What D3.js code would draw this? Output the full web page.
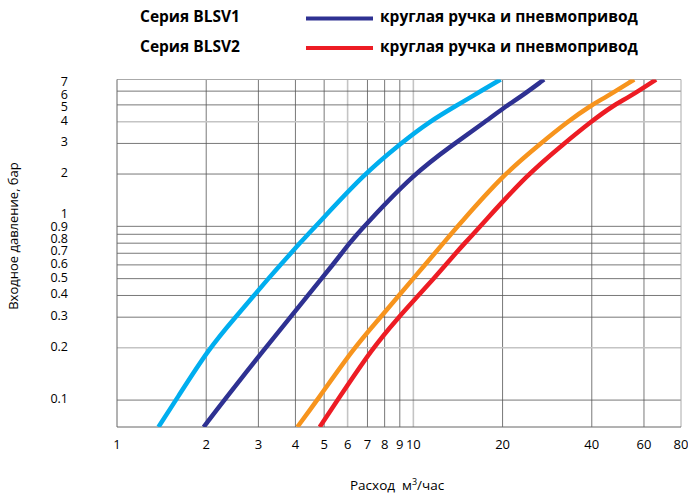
<!DOCTYPE html>
<html>
<head>
<meta charset="utf-8">
<script src="https://cdn.jsdelivr.net/npm/d3@7/dist/d3.min.js"></script>
<style>
  body { margin: 0; background: #fff; }
  svg { font-family: "Open Sans", Lato, sans-serif; }
</style>
</head>
<body>
<div id="chart"></div>
<script>
// pressure sample points (bar) shared by all curves
var pressure = [0.07, 0.1, 0.2, 0.3, 0.4, 0.5, 0.6, 0.7, 0.8, 0.9, 1, 2, 3, 4, 5, 5.5, 7];

// flow (m3/h) at the pressures above
var flowCyan   = [1.38, 1.58, 2.05, 2.51, 2.90, 3.24, 3.56, 3.86, 4.14, 4.41, 4.68, 6.81, 9.06, 11.3, 14.1, 15.5, 19.7];
var flowNavy   = [1.96, 2.30, 3.17, 3.85, 4.40, 4.90, 5.34, 5.73, 6.09, 6.46, 6.82, 10.0, 13.8, 17.5, 20.8, 22.8, 27.6];
var flowOrange = [4.06, 4.74, 6.30, 7.75, 8.94, 9.99, 10.94, 11.81, 12.62, 13.38, 14.1, 20.2, 26.9, 33.1, 40.0, 44.3, 55.6];
var flowRed    = [4.83, 5.55, 7.29, 8.92, 10.4, 11.7, 12.85, 13.9, 14.9, 15.9, 16.8, 24.3, 32.3, 39.7, 47.6, 53.0, 65.9];

var xTicks = [1, 2, 3, 4, 5, 6, 7, 8, 9, 10, 20, 40, 60, 80];
var yTicks = [0.1, 0.2, 0.3, 0.4, 0.5, 0.6, 0.7, 0.8, 0.9, 1, 2, 3, 4, 5, 6, 7];
var xSoft = [6, 10];
var ySoft = [0.2, 4];

var series = [
  { name: "cyan", flow: flowCyan, color: "#00aeef" },
  { name: "navy", flow: flowNavy, color: "#2e3192" },
  { name: "orange", flow: flowOrange, color: "#f7941d" },
  { name: "red", flow: flowRed, color: "#ed1c24" }
];

var legend = [
  { label: "Серия BLSV1", text: "круглая ручка и пневмопривод", color: "#2e3192" },
  { label: "Серия BLSV2", text: "круглая ручка и пневмопривод", color: "#ed1c24" }
];

var drawChart = function() {
  var width = 688, height = 498;
  var pLeft = 117, pRight = 681, pTop = 79.5, pBottom = 427;

  var svg = d3.select("#chart")
      .append("svg")
      .attr("width", width)
      .attr("height", height);

  var xScale = d3.scaleLog().domain([1, 80]).range([pLeft, pRight]);
  var yScale = d3.scaleLog().domain([0.07, 7]).range([pBottom, pTop]);

  // grid
  var grid = svg.append("g").attr("class", "grid");

  grid.selectAll("line.v")
      .data(xTicks.slice(1, -1))
      .enter()
      .append("line")
      .attr("x1", function(d) { return xScale(d); })
      .attr("x2", function(d) { return xScale(d); })
      .attr("y1", pTop)
      .attr("y2", pBottom)
      .attr("stroke", function(d) { return xSoft.indexOf(d) >= 0 ? "#c4c4c4" : "#555"; })
      .attr("stroke-width", function(d) { return xSoft.indexOf(d) >= 0 ? 1.6 : 0.8; });

  grid.selectAll("line.h")
      .data(yTicks.slice(0, -1))
      .enter()
      .append("line")
      .attr("y1", function(d) { return yScale(d); })
      .attr("y2", function(d) { return yScale(d); })
      .attr("x1", pLeft)
      .attr("x2", pRight)
      .attr("stroke", function(d) { return ySoft.indexOf(d) >= 0 ? "#c4c4c4" : "#555"; })
      .attr("stroke-width", function(d) { return ySoft.indexOf(d) >= 0 ? 1.6 : 0.8; });

  // frame
  svg.append("line").attr("x1", pLeft).attr("x2", pRight).attr("y1", pTop).attr("y2", pTop)
      .attr("stroke", "#aaa").attr("stroke-width", 1);
  svg.append("line").attr("x1", pRight).attr("x2", pRight).attr("y1", pTop).attr("y2", pBottom)
      .attr("stroke", "#aaa").attr("stroke-width", 1);
  svg.append("line").attr("x1", pLeft).attr("x2", pLeft).attr("y1", pTop).attr("y2", pBottom)
      .attr("stroke", "#666").attr("stroke-width", 1);
  svg.append("line").attr("x1", pLeft).attr("x2", pRight).attr("y1", pBottom).attr("y2", pBottom)
      .attr("stroke", "#666").attr("stroke-width", 1);

  // curves
  svg.append("clipPath").attr("id", "plot")
      .append("rect")
      .attr("x", pLeft).attr("y", pTop)
      .attr("width", pRight - pLeft).attr("height", pBottom - pTop);

  var line = d3.line()
      .x(function(d) { return xScale(d[0]); })
      .y(function(d) { return yScale(d[1]); })
      .curve(d3.curveBasis);

  svg.append("g")
      .attr("clip-path", "url(#plot)")
      .selectAll("path")
      .data(series)
      .enter()
      .append("path")
      .attr("d", function(s) { return line(s.flow.map(function(f, i) { return [f, pressure[i]]; })); })
      .attr("fill", "none")
      .attr("stroke", function(s) { return s.color; })
      .attr("stroke-width", 4.5);

  // x tick labels
  svg.append("g")
      .selectAll("text")
      .data(xTicks)
      .enter()
      .append("text")
      .attr("x", function(d) { return xScale(d); })
      .attr("y", 449)
      .attr("text-anchor", "middle")
      .attr("font-size", 13)
      .text(function(d) { return d; });

  // y tick labels, stacked like the original so they don't collide
  var step = 12.4;
  var yPos = yTicks.map(function(d) { return yScale(d) - 1.5; });
  for (var i = 1; i < yPos.length; i++) {
    if (yPos[i] > yPos[i - 1] - step) yPos[i] = yPos[i - 1] - step;
  }
  var last = yPos.length - 1;
  if (yPos[last] < 82) yPos[last] = 82;
  for (var j = last - 1; j >= 0; j--) {
    if (yPos[j] < yPos[j + 1] + step) yPos[j] = yPos[j + 1] + step;
  }

  svg.append("g")
      .selectAll("text")
      .data(yTicks)
      .enter()
      .append("text")
      .attr("x", 68)
      .attr("y", function(d, i) { return yPos[i]; })
      .attr("dy", "0.35em")
      .attr("text-anchor", "end")
      .attr("font-size", 12.5)
      .text(function(d) { return d; });

  // axis titles
  var xTitle = svg.append("text")
      .attr("x", 350)
      .attr("y", 490)
      .attr("font-size", 13.5)
      .style("white-space", "pre");
  xTitle.append("tspan").text("Расход  м");
  xTitle.append("tspan").attr("dy", -5).attr("font-size", 9).text("3");
  xTitle.append("tspan").attr("dy", 5).text("/час");

  svg.append("text")
      .attr("transform", "translate(18,236) rotate(-90)")
      .attr("text-anchor", "middle")
      .attr("font-size", 13)
      .text("Входное давление, бар");

  // legend
  var lg = svg.append("g")
      .selectAll("g")
      .data(legend)
      .enter()
      .append("g")
      .attr("transform", function(d, i) { return "translate(0," + (17 + i * 29.5) + ")"; });

  lg.append("text")
      .attr("x", 140)
      .attr("dy", "0.35em")
      .attr("font-size", 15.5)
      .attr("font-weight", "bold")
      .text(function(d) { return d.label; });

  lg.append("line")
      .attr("x1", 306).attr("x2", 373)
      .attr("y1", 1.5).attr("y2", 1.5)
      .attr("stroke", function(d) { return d.color; })
      .attr("stroke-width", 4);

  lg.append("text")
      .attr("x", 380)
      .attr("dy", "0.35em")
      .attr("font-size", 15.5)
      .attr("font-weight", "bold")
      .text(function(d) { return d.text; });
};

drawChart();
</script>
</body>
</html>
